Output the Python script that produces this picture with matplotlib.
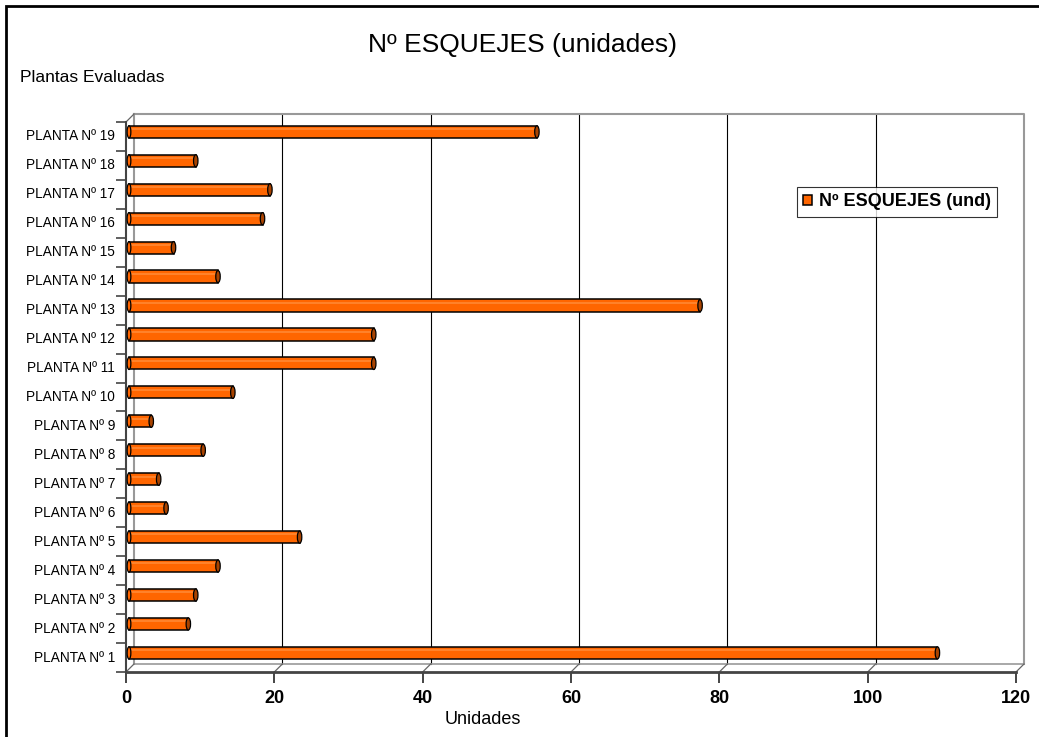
import numpy as np
import matplotlib.pyplot as plt
from matplotlib.patches import Ellipse, Rectangle
from matplotlib.transforms import offset_copy

plt.rcParams['font.family'] = ['Liberation Sans', 'DejaVu Sans']

# Datos
plantas = ['PLANTA Nº %d' % i for i in range(1, 20)]
esquejes = [109, 8, 9, 12, 23, 5, 4, 10, 3, 14, 33, 33, 77, 12, 6, 18, 19, 9, 55]
xticks = [0, 20, 40, 60, 80, 100, 120]

W, H = 1039, 737
fig = plt.figure(figsize=(W / 100, H / 100), dpi=100)

# area frontal del grafico (pixeles)
x0, x1 = 126, 1016
y0, y1 = 122, 672
ax = fig.add_axes([x0 / W, 1 - y1 / H, (x1 - x0) / W, (y1 - y0) / H])
ax.set_xlim(0, 120)
ax.set_ylim(-0.5, 18.5)
for s in ax.spines.values():
    s.set_visible(False)
ax.set_xticks([])
ax.set_yticks([])

dx, dy = 8, 8
back = offset_copy(ax.transData, fig=fig, x=dx, y=dy, units='dots')
mid = offset_copy(ax.transData, fig=fig, x=3, y=0, units='dots')

# plano del fondo
for xv in xticks[1:-1]:
    ax.plot([xv, xv], [-0.5, 18.5], color='black', lw=0.8, transform=back, clip_on=False, zorder=1)
ax.plot([0, 120, 120], [18.5, 18.5, -0.5], color='#999999', lw=1.5, transform=back, clip_on=False, zorder=1)
ax.plot([0, 0], [-0.5, 18.5], color='#999999', lw=1.5, transform=back, clip_on=False, zorder=1)
ax.plot([0, 120], [-0.5, -0.5], color='#999999', lw=1.2, transform=back, clip_on=False, zorder=1)

# suelo y pared: diagonales
for xv in xticks:
    p0 = ax.transData.transform((xv, -0.5))
    ax.plot([p0[0], p0[0] + dx], [p0[1], p0[1] + dy], color='#666666', lw=0.9,
            transform=None, clip_on=False, zorder=1)
p0 = ax.transData.transform((0, 18.5))
ax.plot([p0[0], p0[0] + dx], [p0[1], p0[1] + dy], color='#666666', lw=0.9,
        transform=None, clip_on=False, zorder=1)

# eje frontal
ax.plot([0, 120], [-0.5, -0.5], color='#444444', lw=2, clip_on=False, zorder=2)
ax.plot([0, 0], [-0.5, 18.5], color='#444444', lw=1.5, clip_on=False, zorder=2)

# marcas del eje x
for xv in xticks:
    ax.plot([xv, xv], [-0.5, -0.5], marker=3, ms=8, mew=1.2, color='#444444', clip_on=False)
    ax.text(xv, -1.4, str(xv), ha='center', va='center', fontsize=13, fontweight='bold')
# marcas del eje y (entre categorias)
for k in range(20):
    ax.plot([0], [k - 0.5], marker=0, ms=7, mew=1.2, color='#444444', clip_on=False)
for k, lab in enumerate(plantas):
    ax.text(-1.5, k, lab, ha='right', va='center', fontsize=9.8)

# barras cilindricas
h = 0.42
yb = np.arange(len(esquejes)) + 0.16
ax.barh(yb, esquejes, height=h, color='#FF6600', edgecolor='black', lw=1.1, zorder=3,
        transform=mid, label='Nº ESQUEJES (und)')
for y, v in zip(yb, esquejes):
    ax.plot([0.3, v - 0.2], [y + 0.09, y + 0.09], color='#FF8833', lw=1.2, zorder=4, transform=mid)
    ax.add_patch(Ellipse((v, y), 0.6, h, facecolor='#A84300', edgecolor='black', lw=0.9,
                         zorder=5, transform=mid))
    ax.add_patch(Ellipse((0, y), 0.5, h, facecolor='#FF6600', edgecolor='black', lw=0.9,
                         zorder=5, transform=mid))

leg = ax.legend(loc='upper left', bbox_to_anchor=(797 / W, 1 - 187 / H), bbox_transform=fig.transFigure,
                frameon=True, fancybox=False, prop={'weight': 'bold', 'size': 13},
                handlelength=0.5, handleheight=0.5, handletextpad=0.35, borderpad=0.35,
                borderaxespad=0)
leg.get_frame().set_edgecolor('black')
leg.get_frame().set_linewidth(0.8)

fig.text(522 / W, 1 - 45 / H, 'Nº ESQUEJES (unidades)', ha='center', va='center', fontsize=19)
fig.text(20 / W, 1 - 77 / H, 'Plantas Evaluadas', ha='left', va='center', fontsize=12.5)
fig.text(483 / W, 1 - 720 / H, 'Unidades', ha='center', va='center', fontsize=13)

fig.patches.append(Rectangle((6 / W, -0.1), 1.2, 1 - 6 / H + 0.1, transform=fig.transFigure,
                             fill=False, edgecolor='black', lw=2))

fig.savefig('out.png', dpi=100)
